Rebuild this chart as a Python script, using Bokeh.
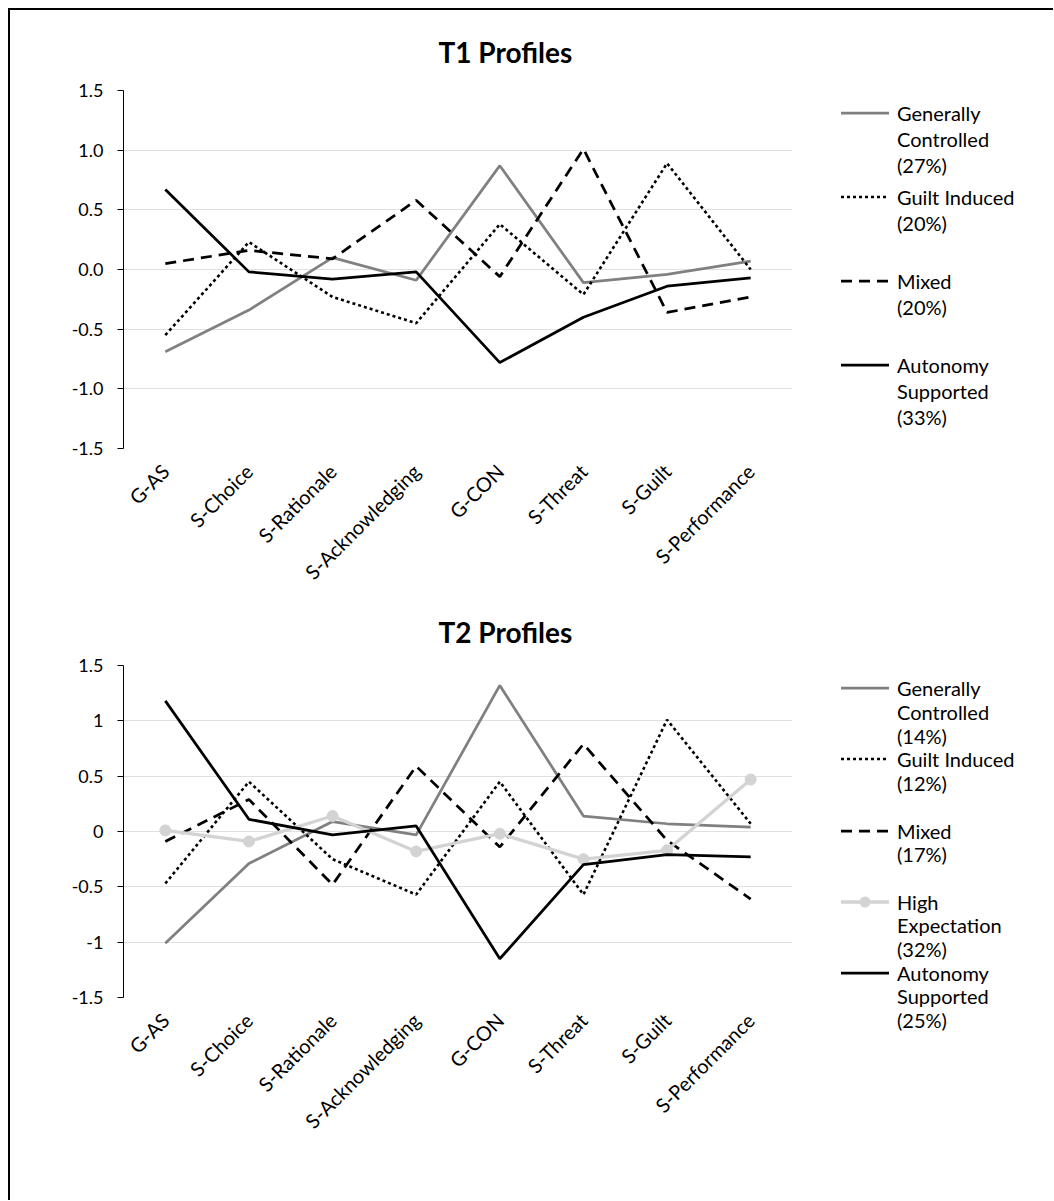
import math
from bokeh.plotting import figure
from bokeh.models import FixedTicker, Range1d, Div
from bokeh.layouts import column, row
from bokeh.embed import file_html
from bokeh.resources import INLINE

# ---------------- data ----------------
categories = ["G-AS", "S-Choice", "S-Rationale", "S-Acknowledging",
              "G-CON", "S-Threat", "S-Guilt", "S-Performance"]

y_ticks = [-1.5, -1.0, -0.5, 0.0, 0.5, 1.0, 1.5]
y_tick_labels_t1 = ["-1.5", "-1.0", "-0.5", "0.0", "0.5", "1.0", "1.5"]
y_tick_labels_t2 = ["-1.5", "-1", "-0.5", "0", "0.5", "1", "1.5"]

# T1 profiles
t1_generally_controlled = [-0.69, -0.34, 0.10, -0.09, 0.87, -0.11, -0.04, 0.07]
t1_guilt_induced = [-0.55, 0.23, -0.23, -0.45, 0.38, -0.21, 0.89, 0.00]
t1_mixed = [0.05, 0.16, 0.09, 0.58, -0.06, 1.01, -0.36, -0.23]
t1_autonomy_supported = [0.67, -0.02, -0.08, -0.02, -0.78, -0.40, -0.14, -0.07]

# T2 profiles
t2_generally_controlled = [-1.01, -0.29, 0.09, -0.03, 1.32, 0.14, 0.07, 0.04]
t2_guilt_induced = [-0.47, 0.45, -0.25, -0.57, 0.45, -0.57, 1.01, 0.07]
t2_mixed = [-0.09, 0.29, -0.48, 0.59, -0.14, 0.79, -0.08, -0.61]
t2_high_expectation = [0.01, -0.09, 0.14, -0.18, -0.02, -0.25, -0.17, 0.47]
t2_autonomy_supported = [1.18, 0.11, -0.03, 0.05, -1.15, -0.30, -0.21, -0.23]

t1_labels = ["Generally\nControlled\n(27%)", "Guilt Induced\n(20%)",
             "Mixed\n(20%)", "Autonomy\nSupported\n(33%)"]
t2_labels = ["Generally\nControlled\n(14%)", "Guilt Induced\n(12%)",
             "Mixed\n(17%)", "High\nExpectation\n(32%)",
             "Autonomy\nSupported\n(25%)"]

# ---------------- styles ----------------
FONT = "Lato"
STY = {
    "gc": dict(color="#808080", dash="solid", width=2.75, marker=False),
    "gi": dict(color="#000000", dash="3 3", width=2.6, marker=False),
    "mx": dict(color="#000000", dash="11 7", width=2.75, marker=False),
    "he": dict(color="#d3d3d3", dash="solid", width=3.3, marker=True),
    "as": dict(color="#000000", dash="solid", width=2.75, marker=False),
}
CHART_W = 782
LEG_W = 261
LEFT = 113


def make_chart(title, series, tick_labels, height, top, frame_h, title_standoff):
    p = figure(x_range=categories, y_range=Range1d(-1.5, 1.5),
               width=CHART_W, height=height, title=title,
               output_backend="svg", toolbar_location=None,
               min_border_left=LEFT, min_border_right=0,
               min_border_top=top, min_border_bottom=height - top - frame_h)
    p.outline_line_color = None
    p.background_fill_color = "white"
    p.border_fill_color = "white"

    p.title.text_font = FONT
    p.title.text_font_style = "bold"
    p.title.text_font_size = "28px"
    p.title.text_color = "black"
    p.title.align = "left"
    p.title.offset = 315
    p.title.standoff = title_standoff

    p.yaxis.ticker = FixedTicker(ticks=y_ticks)
    p.yaxis.major_label_overrides = {
        (int(t) if float(t).is_integer() else t): lab
        for t, lab in zip(y_ticks, tick_labels)}
    p.yaxis.major_label_text_font = FONT
    p.yaxis.major_label_text_font_size = "18px"
    p.yaxis.major_label_text_color = "black"
    p.yaxis.axis_line_color = "#000000"
    p.yaxis.major_tick_line_color = "#000000"
    p.yaxis.major_tick_out = 6
    p.yaxis.major_tick_in = 0
    p.yaxis.minor_tick_line_color = None
    p.yaxis.major_label_standoff = 14

    p.xaxis.axis_line_color = None
    p.xaxis.major_tick_line_color = None
    p.xaxis.minor_tick_line_color = None
    p.xaxis.major_label_orientation = math.pi / 4
    p.xaxis.major_label_text_font = FONT
    p.xaxis.major_label_text_font_size = "20px"
    p.xaxis.major_label_text_color = "black"
    p.xaxis.major_label_standoff = 13

    p.xgrid.grid_line_color = None
    p.ygrid.grid_line_color = "#e0e0e0"
    p.ygrid.grid_line_width = 1

    for key, vals in series:
        s = STY[key]
        p.line(categories, vals, line_color=s["color"], line_width=s["width"],
               line_dash=s["dash"])
        if s["marker"]:
            p.scatter(categories, vals, size=11, fill_color=s["color"],
                      line_color=s["color"])
    return p


def make_legend(keys, labels, height, y0, item_gap, line_gap):
    parts = []
    for i, (key, lab) in enumerate(zip(keys, labels)):
        s = STY[key]
        y = y0 + i * item_gap
        dash = "" if s["dash"] == "solid" else f' stroke-dasharray="{s["dash"]}"'
        mark = (f'<circle cx="24" cy="7" r="5.5" fill="{s["color"]}"/>'
                if s["marker"] else "")
        parts.append(
            f'<svg style="position:absolute;left:49px;top:{y - 7:.1f}px;'
            f'overflow:visible" width="48" height="14">'
            f'<line x1="0" y1="7" x2="48" y2="7" stroke="{s["color"]}" '
            f'stroke-width="{s["width"]}"{dash}/>{mark}</svg>')
        for k, txt in enumerate(lab.split("\n")):
            ty = y + k * line_gap
            parts.append(
                f'<div style="position:absolute;left:105px;top:{ty - 15:.1f}px;'
                f'height:30px;line-height:30px;white-space:nowrap">{txt}</div>')
    html = (f'<div style="position:relative;width:{LEG_W}px;height:{height}px;'
            f'font-family:Lato;font-size:20px;color:#000;margin:0;padding:0">'
            + "".join(parts) + '</div>')
    return Div(text=html, width=LEG_W, height=height, margin=0)


p1 = make_chart("T1 Profiles",
                [("gc", t1_generally_controlled), ("gi", t1_guilt_induced),
                 ("mx", t1_mixed), ("as", t1_autonomy_supported)],
                y_tick_labels_t1, height=585, top=78, frame_h=371,
                title_standoff=44)
l1 = make_legend(["gc", "gi", "mx", "as"], t1_labels, 585, 103.3, 84, 26)

p2 = make_chart("T2 Profiles",
                [("gc", t2_generally_controlled), ("gi", t2_guilt_induced),
                 ("mx", t2_mixed), ("he", t2_high_expectation),
                 ("as", t2_autonomy_supported)],
                y_tick_labels_t2, height=605, top=68, frame_h=334,
                title_standoff=34)
l2 = make_legend(["gc", "gi", "mx", "he", "as"], t2_labels, 605, 93.3, 71.1, 23.7)

layout = column(row(p1, l1), row(p2, l2),
                styles={"margin-left": "8px", "margin-top": "8px",
                        "border-left": "2px solid black",
                        "border-top": "2px solid black"})

open("out.html", "w").write(file_html(layout, INLINE))
